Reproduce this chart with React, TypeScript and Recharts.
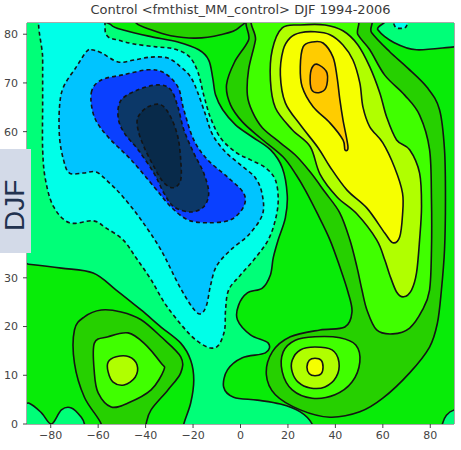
import { ScatterChart, Scatter, XAxis, YAxis, ReferenceArea } from "recharts";

type Pt = [number, number];

const TITLE = "Control <fmthist_MM_control> DJF 1994-2006";
const SIDE_LABEL = "DJF";

const X_TICKS = [-80, -60, -40, -20, 0, 20, 40, 60, 80];
const Y_TICKS = [0, 10, 20, 30, 40, 50, 60, 70, 80];

// fill colour of each contour band
const LEVEL_FILL: Record<number, string> = {
  [-5]: "#082a4a",
  [-4]: "#0c3868",
  [-3]: "#0a40ff",
  [-2]: "#00c4ff",
  [-1]: "#00ffe8",
  0: "#00ff78",
  1: "#08ec08",
  2: "#26d000",
  3: "#40ff00",
  4: "#b0ff00",
  5: "#f6ff00",
  6: "#ffcc00",
  7: "#ffb000",
};

// contour outlines (lon, lat)
const BACKGROUND: Pt[] = [[-100, -10], [100, -10], [100, 95], [-100, 95]];

const CYAN: Pt[] = [
  [-60, 85], [-56.6, 79.9], [-51.6, 78.8], [-44.9, 78.0], [-35.6, 77.4], [-28.1, 77.0],
  [-21.8, 75.5], [-18.0, 72.3], [-15.5, 67.5], [-12.6, 62.8], [-8.4, 58.7], [-2.1, 55.8],
  [4.2, 54.2], [10.5, 52.6], [14.7, 50.1], [15.9, 46.0], [14.7, 41.9], [11.7, 37.8],
  [6.3, 34.1], [0, 30.6], [-5.0, 27.5], [-6.3, 23.4], [-6.7, 19.3], [-9.2, 16.2],
  [-12.6, 15.6], [-17.6, 16.8], [-23.1, 19.3], [-31.4, 24.4], [-37.7, 29.6], [-44.0, 34.1],
  [-49.5, 37.8], [-56.6, 40.2], [-62.1, 41.7], [-72.1, 41.3], [-78.8, 44.6], [-82.2, 50.1],
  [-83.4, 56.3], [-83.4, 66], [-83.4, 75], [-83.4, 85],
];
const CYAN_TOP: Pt[] = [[63.7, 85], [65.0, 81.7], [67.5, 81.2], [70.0, 81.7], [71.3, 85]];

const SKY: Pt[] = [
  [-62.9, 76.8], [-58.7, 76.2], [-51.6, 74.3], [-44.9, 74.7], [-37.7, 75.3], [-30.6, 75.1],
  [-25.2, 73.3], [-21.0, 71.2], [-18.0, 68.0], [-14.7, 63.4], [-11.7, 59.3], [-6.3, 55.8],
  [0, 53.2], [6.3, 50.5], [9.2, 47.0], [9.2, 42.9], [3.4, 38.8], [-4.2, 35.7],
  [-10.1, 32.4], [-12.6, 28.5], [-14.3, 24.4], [-16.8, 22.6], [-20.1, 23.8], [-26.0, 28.5],
  [-33.5, 35.7], [-41.9, 41.9], [-49.5, 46.6], [-55.3, 49.5], [-60.8, 51.7], [-66.2, 51.5],
  [-72.1, 51.5], [-74.6, 54.2], [-76.3, 58.9], [-76.3, 65.1], [-74.6, 69.2], [-69.2, 73.3],
  [-65.0, 76.4],
];

const BLUE: Pt[] = [
  [-62.9, 68.0], [-58.7, 70.6], [-49.1, 71.7], [-39.0, 72.7], [-32.3, 72.1], [-26.4, 69.2],
  [-23.9, 64.5], [-19.7, 58.3], [-13.8, 54.2], [-5.5, 50.7], [1.3, 47.4], [1.3, 44.6],
  [-4.2, 41.9], [-13.8, 41.3], [-22.2, 41.9], [-29.4, 44.6], [-36.5, 48.7], [-46.1, 54.2],
  [-55.8, 58.9], [-61.6, 63.0],
];

const NAVY: Pt[] = [
  [-51.6, 63.0], [-50.3, 66.5], [-43.2, 68.6], [-34.8, 69.6], [-29.4, 68.6], [-26.4, 65.1],
  [-23.9, 60.4], [-19.7, 55.6], [-15.5, 51.5], [-13.4, 47.4], [-15.5, 44.6], [-21.0, 43.5],
  [-28.1, 44.6], [-32.3, 47.4], [-36.5, 51.5], [-43.2, 56.3], [-49.1, 59.8],
];

const NAVY_CORE: Pt[] = [
  [-43.2, 63.0], [-39.0, 65.1], [-33.5, 65.5], [-29.4, 63.0], [-26.4, 58.9], [-25.2, 54.2],
  [-25.2, 50.1], [-28.1, 48.5], [-32.3, 49.5], [-36.5, 52.8], [-40.7, 56.9], [-43.2, 60.4],
];

const GREEN_LEFT: Pt[] = [
  [-96.4, 33.1], [-89.3, 32.8], [-75.5, 32.0], [-62.1, 31.0], [-52.4, 27.5], [-41.9, 23.4],
  [-33.5, 19.9], [-25.2, 16.6], [-21.0, 13.1], [-19.7, 9.0], [-21.0, 4.3], [-23.9, 0],
  [-25.2, -3.3], [-65.0, -3.3], [-65.8, 0], [-67.1, 1.4], [-71.3, 3.3], [-75.5, 2.9],
  [-79.7, 0], [-83.9, 2.3], [-89.3, 4.3], [-96.4, 4.9],
];

const GREEN_MAIN: Pt[] = [
  [-55.8, 85], [-54.5, 81.9], [-48.2, 80.7], [-37.7, 79.5], [-26.4, 78.4], [-17.6, 76.8],
  [-13.4, 74.7], [-11.7, 71.0], [-10.5, 67.5], [-7.5, 64.5], [-2.1, 61.4], [5.0, 58.9],
  [12.6, 56.3], [17.6, 52.6], [19.7, 47.0], [18.9, 42.3], [15.9, 37.8], [13.8, 34.1],
  [12.6, 30.6], [9.2, 27.9], [2.9, 26.9], [-0.8, 24.4], [-1.3, 21.4], [4.2, 18.3],
  [11.7, 16.6], [10.5, 14.6], [0.8, 13.6], [-5.5, 11.1], [-7.1, 7.6], [-2.9, 5.5],
  [7.1, 4.9], [16.8, 4.1], [25.2, 2.5], [30.2, 0], [31.4, -3.3], [83.9, -3.3],
  [85.1, 0], [86.8, 1.8], [90.2, 2.9], [96.4, 2.9], [96.4, 77.4], [90.2, 77.4],
  [74.2, 76.8], [65.0, 78.2], [57.9, 80.9], [54.5, 85],
];

const DARK_LENS: Pt[] = [
  [-46.1, 85], [-44.0, 82.3], [-37.7, 80.9], [-29.4, 79.7], [-18.9, 79.2], [-8.4, 79.9],
  [-0.8, 81.3], [2.1, 85],
];

const DARK_MAIN: Pt[] = [
  [6.3, 84.0], [3.4, 78.8], [-2.5, 74.3], [-5.9, 69.6], [-4.2, 65.5], [0.8, 62.0],
  [8.4, 58.7], [18.0, 54.8], [23.5, 51.1], [27.3, 48.0], [32.7, 42.9], [37.7, 37.8],
  [41.9, 32.2], [45.3, 27.1], [47.0, 23.0], [44.0, 19.9], [33.5, 19.3], [21.0, 17.9],
  [13.4, 14.8], [10.9, 10.1], [14.7, 6.0], [25.2, 2.9], [37.7, 1.4], [50.3, 2.5],
  [60.0, 5.3], [71.3, 10.5], [79.7, 15.8], [83.0, 20.7], [84.7, 27.5], [86.0, 35.7],
  [86.4, 46.0], [86.0, 56.3], [83.9, 64.5], [78.8, 69.0], [70.4, 73.1], [62.9, 76.4],
  [55.3, 80.3], [51.2, 84.0],
];

const DARK_LEFT: Pt[] = [
  [-70.0, 19.3], [-65.8, 22.0], [-58.7, 23.4], [-50.3, 23.0], [-41.9, 21.4], [-33.5, 17.9],
  [-25.2, 13.8], [-25.2, 10.5], [-30.6, 7.0], [-37.7, 2.9], [-39.8, 0], [-40.7, -3.3],
  [-58.7, -3.3], [-58.7, 0], [-65.8, 5.5], [-70.0, 12.5],
];

const LIME_MAIN: Pt[] = [
  [7.5, 84.0], [6.3, 78.8], [3.4, 72.7], [2.9, 67.5], [5.0, 64.1], [9.2, 60.8],
  [16.8, 57.7], [23.1, 55.2], [29.4, 51.7], [35.6, 47.6], [41.9, 43.3], [46.1, 37.8],
  [49.1, 32.2], [51.2, 27.5], [53.3, 23.4], [57.4, 19.3], [64.2, 18.5], [71.3, 19.7],
  [76.7, 23.4], [79.7, 27.5], [80.5, 35.7], [80.5, 46.0], [79.7, 56.3], [75.5, 63.4],
  [69.2, 67.5], [60.8, 71.6], [54.5, 76.8], [49.5, 79.9], [46.1, 84.0],
];

const LIME_LEFT: Pt[] = [
  [-61.6, 16.6], [-55.8, 17.9], [-47.4, 18.7], [-40.7, 16.6], [-33.5, 12.5], [-32.3, 11.1],
  [-37.7, 7.0], [-47.4, 4.3], [-54.5, 3.5], [-60.0, 6.4], [-61.6, 10.5],
];

const LIME_SMALL: Pt[] = [
  [18.0, 14.8], [23.1, 17.2], [31.4, 17.9], [41.9, 17.7], [48.6, 16.2], [50.3, 12.7],
  [47.0, 8.6], [39.8, 6.0], [30.2, 5.3], [21.8, 7.0], [17.6, 10.7],
];

const YG_MAIN: Pt[] = [
  [17.6, 81.3], [25.2, 81.9], [35.6, 81.9], [43.2, 80.7], [49.5, 77.8], [54.5, 73.3],
  [58.7, 68.0], [61.6, 63.0], [65.8, 58.3], [71.3, 56.3], [75.5, 51.5], [76.3, 44.6],
  [75.5, 37.8], [74.2, 31.0], [72.1, 27.5], [68.8, 26.1], [65.8, 27.1], [62.9, 30.6],
  [60.8, 33.7], [57.4, 37.8], [49.1, 43.1], [40.7, 46.6], [33.5, 51.3], [29.4, 56.9],
  [21.8, 60.4], [14.7, 64.9], [12.6, 70.6], [13.4, 76.8],
];

const YG_LEFT: Pt[] = [
  [-55.8, 12.7], [-52.4, 13.8], [-47.0, 13.8], [-43.6, 12.1], [-44.4, 9.6], [-49.1, 8.0],
  [-53.7, 8.6], [-55.8, 10.7],
];

const YG_SMALL: Pt[] = [
  [21.8, 13.1], [25.2, 15.2], [31.4, 15.8], [38.6, 15.2], [41.5, 12.7], [40.3, 9.6],
  [35.6, 7.6], [29.4, 7.4], [24.3, 8.6], [21.8, 10.7],
];

const YELLOW_MAIN: Pt[] = [
  [21.0, 79.3], [25.2, 80.3], [31.4, 80.5], [37.7, 79.9], [43.2, 77.8], [47.4, 74.7],
  [50.3, 70.0], [51.6, 65.1], [54.5, 61.0], [60.0, 57.7], [65.0, 52.6], [68.3, 47.4],
  [68.3, 42.9], [67.1, 38.4], [64.2, 37.2], [60.8, 39.2], [53.3, 44.3], [44.9, 48.0],
  [37.7, 52.8], [32.7, 56.7], [25.2, 61.4], [18.9, 65.9], [16.8, 71.6], [18.0, 76.8],
];

const YELLOW_SMALL: Pt[] = [
  [28.0, 11.7], [29.0, 13.1], [31.4, 13.5], [34.0, 13.1], [34.8, 11.7], [34.0, 10.3],
  [31.4, 9.9], [29.0, 10.3],
];

const GOLD: Pt[] = [
  [26.4, 77.4], [30.2, 78.4], [34.8, 78.2], [39.0, 75.3], [40.7, 71.2], [41.9, 66.5],
  [43.2, 62.4], [45.3, 56.9], [44.0, 56.3], [43.2, 58.3], [37.7, 61.8], [30.6, 65.1],
  [26.0, 69.2], [25.2, 73.3],
];

const ORANGE: Pt[] = [
  [29.4, 71.5], [30.6, 73.5], [33.0, 73.7], [36.5, 72.0], [36.0, 69.0], [33.0, 68.0],
  [30.0, 68.6],
];

// painting order: background, rising positive bands, falling negative bands
const LAYERS: { pts: Pt[]; level: number }[] = [
  { pts: BACKGROUND, level: 0 },
  { pts: GREEN_LEFT, level: 1 },
  { pts: GREEN_MAIN, level: 1 },
  { pts: DARK_LENS, level: 2 },
  { pts: DARK_MAIN, level: 2 },
  { pts: DARK_LEFT, level: 2 },
  { pts: LIME_MAIN, level: 3 },
  { pts: LIME_LEFT, level: 3 },
  { pts: LIME_SMALL, level: 3 },
  { pts: YG_MAIN, level: 4 },
  { pts: YG_LEFT, level: 4 },
  { pts: YG_SMALL, level: 4 },
  { pts: YELLOW_MAIN, level: 5 },
  { pts: YELLOW_SMALL, level: 5 },
  { pts: GOLD, level: 6 },
  { pts: ORANGE, level: 7 },
  { pts: CYAN, level: -1 },
  { pts: CYAN_TOP, level: -1 },
  { pts: SKY, level: -2 },
  { pts: BLUE, level: -3 },
  { pts: NAVY, level: -4 },
  { pts: NAVY_CORE, level: -5 },
];

type XY = { x: number; y: number };

function closedPath(pts: XY[]) {
  const n = pts.length;
  let d = `M${pts[0].x},${pts[0].y}`;
  for (let i = 0; i < n; i++) {
    const p0 = pts[(i - 1 + n) % n];
    const p1 = pts[i];
    const p2 = pts[(i + 1) % n];
    const p3 = pts[(i + 2) % n];
    const c1x = p1.x + (p2.x - p0.x) / 6;
    const c1y = p1.y + (p2.y - p0.y) / 6;
    const c2x = p2.x - (p3.x - p1.x) / 6;
    const c2y = p2.y - (p3.y - p1.y) / 6;
    d += ` C${c1x},${c1y} ${c2x},${c2y} ${p2.x},${p2.y}`;
  }
  return d + "Z";
}

// receives the pixel points of a Scatter series through its `line` prop
function Band(props: any) {
  const { points, tone, level } = props;
  if (!points || points.length < 3) return null;
  return (
    <path
      d={closedPath(points)}
      fill={tone}
      stroke={level === 0 ? "none" : "#141414"}
      strokeWidth={1.6}
      strokeDasharray={level < 0 ? "4 3" : undefined}
      strokeLinejoin="round"
    />
  );
}

const NoDot = () => <g />;

const minus = (v: number) => String(v).replace("-", "\u2212");

export default function App() {
  return (
    <div style={{ position: "absolute", left: 0, top: 0, width: 461, height: 450, background: "#fff", fontFamily: "'DejaVu Sans', sans-serif" }}>
      <div style={{ position: "absolute", left: 27, top: 2, width: 427, textAlign: "center", fontSize: 13, lineHeight: "16px", color: "#3a3a3a" }}>
        {TITLE}
      </div>
      <ScatterChart width={461} height={450} margin={{ top: 23, right: 7, bottom: 0, left: 0 }}>
        <XAxis
          type="number"
          dataKey="x"
          domain={[-90, 90]}
          ticks={X_TICKS}
          tickFormatter={minus}
          allowDataOverflow
          height={26}
          tickSize={4}
          tickMargin={3}
          axisLine={false}
          tick={{ fill: "#444", fontSize: 11 }}
          tickLine={{ stroke: "#444" }}
        />
        <YAxis
          type="number"
          dataKey="y"
          domain={[0, 82.3]}
          ticks={Y_TICKS}
          allowDataOverflow
          width={27}
          tickSize={4}
          tickMargin={5}
          axisLine={false}
          tick={{ fill: "#444", fontSize: 11 }}
          tickLine={{ stroke: "#444" }}
        />
        {LAYERS.map((l, i) => (
          <Scatter
            key={i}
            data={l.pts.map(([x, y]) => ({ x, y }))}
            isAnimationActive={false}
            legendType="none"
            shape={NoDot}
            lineType="joint"
            line={<Band tone={LEVEL_FILL[l.level]} level={l.level} />}
          />
        ))}
        <ReferenceArea x1={-90} x2={90} y1={0} y2={82.3} fill="none" stroke="#555" strokeWidth={1} />
      </ScatterChart>
      <div style={{ position: "absolute", left: 0, top: 149, width: 31, height: 104, background: "#d3dae8" }}>
        <div
          style={{
            position: "absolute",
            left: -10,
            top: 44,
            width: 50,
            height: 26,
            lineHeight: "26px",
            fontSize: 28,
            color: "#22324f",
            fontFamily: "'Liberation Sans', sans-serif",
            transform: "rotate(-90deg)",
            textAlign: "center",
            whiteSpace: "nowrap",
          }}
        >
          {SIDE_LABEL}
        </div>
      </div>
    </div>
  );
}
